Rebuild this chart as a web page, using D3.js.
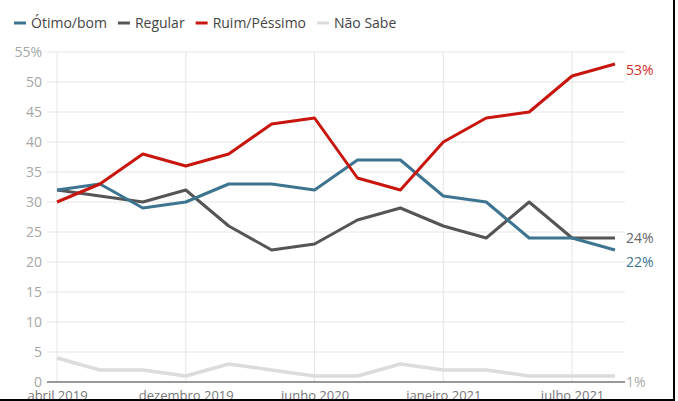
<!DOCTYPE html>
<html lang="pt">

<head>
    <meta charset="UTF-8">
    <title>Avaliação</title>
    <script src="https://cdn.jsdelivr.net/npm/d3@7"></script>
    <style>
        body { margin: 0; background: #fff; }
        svg { display: block; font-family: "Open Sans", sans-serif; }
    </style>
</head>

<body>
    <script>
        // pesquisas (eixo x categórico, só alguns rótulos aparecem)
        const datas = ['abril 2019', 'julho 2019', 'agosto 2019', 'dezembro 2019', 'abril 2020', 'maio 2020',
            'junho 2020', 'agosto 2020', 'dezembro 2020', 'janeiro 2021', 'março 2021', 'maio 2021',
            'julho 2021', 'setembro 2021'];
        const rotulosX = ['abril 2019', 'dezembro 2019', 'junho 2020', 'janeiro 2021', 'julho 2021'];
        const yTicks = [0, 5, 10, 15, 20, 25, 30, 35, 40, 45, 50, 55];

        const otimoBom = [32, 33, 29, 30, 33, 33, 32, 37, 37, 31, 30, 24, 24, 22];
        const regular = [32, 31, 30, 32, 26, 22, 23, 27, 29, 26, 24, 30, 24, 24];
        const ruimPessimo = [30, 33, 38, 36, 38, 43, 44, 34, 32, 40, 44, 45, 51, 53];
        const naoSabe = [4, 2, 2, 1, 3, 2, 1, 1, 3, 2, 2, 1, 1, 1];

        const series = [
            { nome: 'Não Sabe', valores: naoSabe, cor: '#dcdcdc', texto: '#aaaaaa', w: 3.5 },
            { nome: 'Regular', valores: regular, cor: '#555555', texto: '#666666', w: 3 },
            { nome: 'Ótimo/bom', valores: otimoBom, cor: '#3d7590', texto: '#3d7590', w: 3 },
            { nome: 'Ruim/Péssimo', valores: ruimPessimo, cor: '#c8160e', texto: '#d0302a', w: 3 }
        ];
        const legenda = ['Ótimo/bom', 'Regular', 'Ruim/Péssimo', 'Não Sabe'];

        let width = 678,
            height = 401;

        let svg = d3.select('body').append('svg').attr('width', width).attr('height', height);

        let x = d3.scalePoint().domain(datas).range([57, 615]);
        let y = d3.scaleLinear().domain([0, 55]).range([382, 52]);

        // grade horizontal
        svg.append('g')
            .selectAll('line')
            .data(yTicks.filter(d => d > 0))
            .enter().append('line')
            .attr('x1', 47).attr('x2', 625)
            .attr('y1', d => y(d)).attr('y2', d => y(d))
            .attr('stroke', '#e6e6e6').attr('stroke-width', 1);

        // grade vertical
        svg.append('g')
            .selectAll('line')
            .data(rotulosX)
            .enter().append('line')
            .attr('x1', d => x(d)).attr('x2', d => x(d))
            .attr('y1', y(55)).attr('y2', y(0))
            .attr('stroke', '#e6e6e6').attr('stroke-width', 1);

        // eixo y
        let yAxis = svg.append('g')
            .attr('transform', 'translate(47,0)')
            .call(d3.axisLeft(y).tickValues(yTicks).tickSize(0).tickPadding(5)
                .tickFormat(d => d === 55 ? d + '%' : d));
        yAxis.select('.domain').remove();
        yAxis.selectAll('text')
            .attr('fill', '#a6a6a6')
            .style('font-size', '14px')
            .style('font-family', '"Open Sans", sans-serif');

        // eixo x
        let xAxis = svg.append('g')
            .attr('transform', 'translate(0,' + y(0) + ')')
            .call(d3.axisBottom(x).tickValues(rotulosX).tickSize(0).tickPadding(9));
        xAxis.select('.domain').remove();
        xAxis.selectAll('text')
            .attr('fill', '#777')
            .style('font-size', '13px')
            .style('font-family', '"Open Sans", sans-serif');

        svg.append('line')
            .attr('x1', 47).attr('x2', 625)
            .attr('y1', y(0)).attr('y2', y(0))
            .attr('stroke', '#333').attr('stroke-width', 1.2);

        // linhas
        let linha = d3.line()
            .x((d, i) => x(datas[i]))
            .y(d => y(d));

        svg.append('g')
            .selectAll('path')
            .data(series)
            .enter().append('path')
            .attr('d', d => linha(d.valores))
            .attr('fill', 'none')
            .attr('stroke', d => d.cor)
            .attr('stroke-width', d => d.w)
            .attr('stroke-linejoin', 'round');

        // rótulos finais com afastamento simples
        let finais = series.map(s => {
            let v = s.valores[s.valores.length - 1];
            return { s: s, v: v, pos: y(v) + 6 };
        }).sort((a, b) => a.pos - b.pos);
        for (let k = 1; k < finais.length; k++) {
            let a = finais[k - 1], b = finais[k];
            if (b.pos - a.pos < 24) {
                let meio = (a.pos + b.pos) / 2;
                a.pos = meio - 12;
                b.pos = meio + 12;
            }
        }
        svg.append('g')
            .selectAll('text')
            .data(finais)
            .enter().append('text')
            .attr('x', 626)
            .attr('y', d => d.pos)
            .attr('dy', '0.35em')
            .attr('fill', d => d.s.texto)
            .style('font-size', '14px')
            .text(d => d.v + '%');

        // legenda
        let leg = svg.append('g').attr('transform', 'translate(14,23)');
        let offs = 0;
        legenda.forEach(nome => {
            let s = series.find(d => d.nome === nome);
            let g = leg.append('g').attr('transform', 'translate(' + offs + ',0)');
            g.append('line')
                .attr('x1', 0).attr('x2', 12)
                .attr('stroke', s.cor).attr('stroke-width', 3);
            let t = g.append('text')
                .attr('x', 17).attr('dy', '0.35em')
                .attr('fill', '#444')
                .style('font-size', '14px')
                .text(nome);
            offs += 17 + t.node().getComputedTextLength() + 11;
        });

        // moldura
        svg.append('line').attr('x1', 674).attr('x2', 674).attr('y1', 0).attr('y2', 401)
            .attr('stroke', '#000').attr('stroke-width', 2);
        svg.append('line').attr('x1', 0).attr('x2', 675).attr('y1', 400).attr('y2', 400)
            .attr('stroke', '#000').attr('stroke-width', 2);
    </script>
</body>

</html>
